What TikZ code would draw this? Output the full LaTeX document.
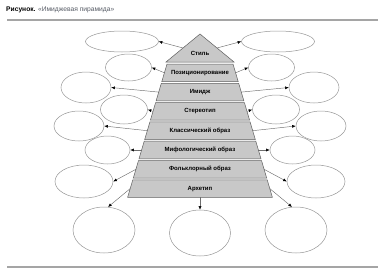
\documentclass[tikz,border=0pt]{standalone}
\usepackage{fontspec}
\setmainfont{Liberation Sans}
\usetikzlibrary{shapes.geometric,arrows.meta}
\definecolor{layerfill}{RGB}{200,200,200}
\definecolor{layerline}{RGB}{95,95,95}
\definecolor{ovalline}{RGB}{150,150,150}
\definecolor{linkline}{RGB}{110,110,110}
\definecolor{rulegray}{RGB}{165,165,165}
\definecolor{titlegray}{RGB}{85,90,100}
\begin{document}
\begin{tikzpicture}[x=1pt,y=-1pt,
    layer/.style={draw=layerline,line width=0.5pt,fill=layerfill},
    layertext/.style={inner sep=0pt,font=\fontsize{6}{7}\selectfont\bfseries},
    oval/.style={ellipse,draw=ovalline,line width=0.5pt,inner sep=0pt},
    link/.style={draw=linkline,line width=0.45pt,-{Latex[length=3.6pt,width=3pt,color=black]}}]
    \useasboundingbox (0,0) rectangle (378,276);

    % title and rules
    \node[anchor=west,inner sep=0pt,font=\fontsize{6.7}{7}\selectfont] (title) at (6,9.5)
      {\textbf{Рисунок.} \textcolor{titlegray}{«Имиджевая пирамида»}};
    \draw[rulegray,line width=1.3pt] (7,20) -- (378,20);
    \draw[rulegray,line width=1.3pt] (7,267) -- (378,267);

    % pyramid
    \draw[layer] (200,34) -- (234,62) -- (166,62) -- cycle;
    \draw[layer] (167.0,64) -- (233.0,64) -- (238.2,81.6) -- (161.8,81.6) -- cycle;
    \draw[layer] (161.3,83.3) -- (238.7,83.3) -- (243.9,100.9) -- (156.1,100.9) -- cycle;
    \draw[layer] (155.6,102.6) -- (244.4,102.6) -- (249.6,120.2) -- (150.4,120.2) -- cycle;
    \draw[layer] (149.9,121.9) -- (250.1,121.9) -- (255.3,139.5) -- (144.7,139.5) -- cycle;
    \draw[layer] (144.2,141.2) -- (255.8,141.2) -- (261.0,158.8) -- (139.0,158.8) -- cycle;
    \draw[layer] (138.5,160.5) -- (261.5,160.5) -- (266.7,178.1) -- (133.3,178.1) -- cycle;
    \draw[layer] (132.8,179.8) -- (267.2,179.8) -- (272.4,197.4) -- (127.6,197.4) -- cycle;

    \node[layertext] (s0) at (200,53) {Стиль};
    \node[layertext] (s1) at (200,72.8) {Позиционирование};
    \node[layertext] (s2) at (200,92.1) {Имидж};
    \node[layertext] (s3) at (200,111.4) {Стереотип};
    \node[layertext] (s4) at (200,130.7) {Классический образ};
    \node[layertext] (s5) at (200,150.0) {Мифологический образ};
    \node[layertext] (s6) at (200,169.3) {Фольклорный образ};
    \node[layertext] (s7) at (200,188.6) {Архетип};

    \coordinate (s0l) at (183,48);      \coordinate (s0r) at (217,48);
    \coordinate (s1l) at (164.4,72.8);  \coordinate (s1r) at (235.6,72.8);
    \coordinate (s2l) at (158.7,92.1);  \coordinate (s2r) at (241.3,92.1);
    \coordinate (s3l) at (153.0,111.4); \coordinate (s3r) at (247.0,111.4);
    \coordinate (s4l) at (147.3,130.7); \coordinate (s4r) at (252.7,130.7);
    \coordinate (s5l) at (141.6,150.0); \coordinate (s5r) at (258.4,150.0);
    \coordinate (s6l) at (135.9,169.3); \coordinate (s6r) at (264.1,169.3);
    \coordinate (s7l) at (130.2,188.6); \coordinate (s7r) at (269.8,188.6);
    \coordinate (s7b) at (200,197.4);

    % ovals
    \node[oval,minimum width=73pt,minimum height=21pt] (l1) at (122,41.5) {};
    \node[oval,minimum width=73pt,minimum height=21pt] (r1) at (278,41.5) {};
    \node[oval,minimum width=46pt,minimum height=27pt] (l2) at (128.5,67.5) {};
    \node[oval,minimum width=46pt,minimum height=27pt] (r2) at (271.5,67.5) {};
    \node[oval,minimum width=50pt,minimum height=31pt] (l3) at (86,87.5) {};
    \node[oval,minimum width=50pt,minimum height=31pt] (r3) at (314,87.5) {};
    \node[oval,minimum width=47pt,minimum height=29pt] (l4) at (124,109.5) {};
    \node[oval,minimum width=47pt,minimum height=29pt] (r4) at (276,109.5) {};
    \node[oval,minimum width=50pt,minimum height=30pt] (l5) at (79,126) {};
    \node[oval,minimum width=50pt,minimum height=30pt] (r5) at (321,126) {};
    \node[oval,minimum width=45pt,minimum height=28pt] (l6) at (107.5,150) {};
    \node[oval,minimum width=45pt,minimum height=28pt] (r6) at (292.5,150) {};
    \node[oval,minimum width=58pt,minimum height=33pt] (l7) at (84,181.5) {};
    \node[oval,minimum width=58pt,minimum height=33pt] (r7) at (316,181.5) {};
    \node[oval,minimum width=62pt,minimum height=46pt] (b1) at (104,230) {};
    \node[oval,minimum width=61pt,minimum height=46pt] (b2) at (200,233) {};
    \node[oval,minimum width=62pt,minimum height=46pt] (b3) at (296,230) {};

    % links
    \draw[link] (s0l) -- (l1.east);
    \draw[link] (s0r) -- (r1.west);
    \draw[link] (s1l) -- (l2.east);
    \draw[link] (s1r) -- (r2.west);
    \draw[link] (s2l) -- (l3.east);
    \draw[link] (s2r) -- (r3.west);
    \draw[link] (s3l) -- (l4.east);
    \draw[link] (s3r) -- (r4.west);
    \draw[link] (s4l) -- (l5.east);
    \draw[link] (s4r) -- (r5.west);
    \draw[link] (s5l) -- (l6.east);
    \draw[link] (s5r) -- (r6.west);
    \draw[link] (s6l) -- (l7.east);
    \draw[link] (s6r) -- (r7.west);
    \draw[link] (s7l) -- (b1.80);
    \draw[link] (s7b) -- (b2.north);
    \draw[link] (s7r) -- (b3.100);
\end{tikzpicture}
\end{document}
